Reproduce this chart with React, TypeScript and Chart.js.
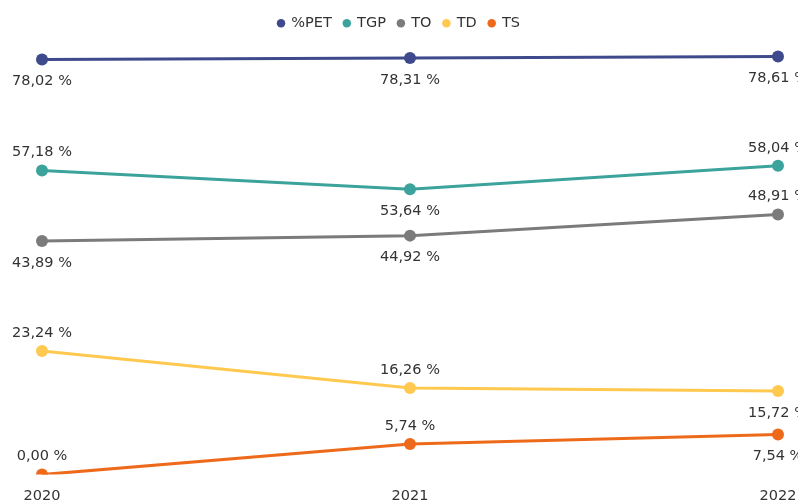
import React, { useEffect, useRef } from 'react';
import { Chart, registerables } from 'chart.js';

Chart.register(...registerables);

const categories = ['2020', '2021', '2022'];
const seriesNames = ['%PET', 'TGP', 'TO', 'TD', 'TS'];
const petValues = [78.02, 78.31, 78.61];
const tgpValues = [57.18, 53.64, 58.04];
const toValues = [43.89, 44.92, 48.91];
const tdValues = [23.24, 16.26, 15.72];
const tsValues = [0.0, 5.74, 7.54];

const seriesColors = ['#3F4A8C', '#3BA39B', '#7B7B7B', '#FFC94F', '#EE6A1B'];
// label placement per series per category: -1 above, 1 below
const labelSides = [
  [1, 1, 1],
  [-1, 1, -1],
  [1, 1, -1],
  [-1, -1, 1],
  [-1, -1, 1],
];

const FONT = 'DejaVu Sans';

const fmt = (v: number) => v.toFixed(2).replace('.', ',') + ' %';

const labelPlugin = {
  id: 'pointLabels',
  afterDatasetsDraw(chart: any) {
    const ctx = chart.ctx;
    ctx.save();
    ctx.font = `14.5px "${FONT}"`;
    ctx.fillStyle = '#333333';
    ctx.textAlign = 'center';
    ctx.textBaseline = 'middle';
    chart.data.datasets.forEach((ds: any, di: number) => {
      const meta = chart.getDatasetMeta(di);
      meta.data.forEach((pt: any, i: number) => {
        const side = labelSides[di][i];
        const off = side < 0 ? -18 : 22;
        ctx.fillText(fmt(ds.data[i]), pt.x, pt.y + off);
      });
    });
    ctx.restore();
  },
};

export default function App() {
  const ref = useRef<HTMLCanvasElement>(null);
  useEffect(() => {
    document.body.style.margin = '0';
    const allValues = [petValues, tgpValues, toValues, tdValues, tsValues];
    const chart = new Chart(ref.current as HTMLCanvasElement, {
      type: 'line',
      data: {
        labels: categories,
        datasets: seriesNames.map((name, i) => ({
          label: name,
          data: allValues[i],
          borderColor: seriesColors[i],
          backgroundColor: seriesColors[i],
          borderWidth: 3,
          pointRadius: 6,
          pointBorderWidth: 0,
          pointBackgroundColor: seriesColors[i],
          tension: 0,
          fill: false,
        })),
      },
      options: {
        responsive: false,
        animation: false,
        layout: { autoPadding: false, padding: { left: 20, right: 20, top: 4, bottom: -15 } },
        plugins: {
          legend: {
            position: 'top',
            labels: {
              usePointStyle: true,
              pointStyle: 'circle',
              boxWidth: 6,
              boxHeight: 6,
              padding: 12,
              color: '#333333',
              font: { family: FONT, size: 14.5 },
            },
          },
          tooltip: { enabled: false },
        },
        scales: {
          x: {
            offset: false,
            grid: { display: false, drawTicks: false },
            border: { display: false },
            ticks: { color: '#333333', font: { family: FONT, size: 14.5 }, padding: 13, maxRotation: 0 },
            afterFit: (scale: any) => {
              scale.paddingLeft = 42;
              scale.paddingRight = 0;
            },
          },
          y: {
            display: false,
            min: 0,
            max: 81.6,
          },
        },
      },
      plugins: [labelPlugin],
    });
    return () => chart.destroy();
  }, []);
  return (
    <div style={{ width: 798, height: 503, overflow: 'hidden' }}>
      <canvas ref={ref} width={798} height={503} />
    </div>
  );
}
